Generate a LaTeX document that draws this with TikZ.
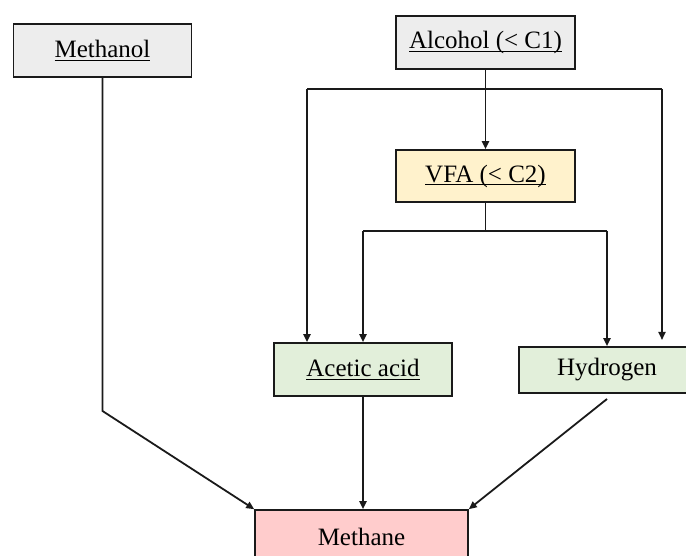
\documentclass[tikz,border=0pt]{standalone}
\usepackage{fontspec}
\setmainfont{Liberation Serif}
\usetikzlibrary{arrows.meta}
\definecolor{boxgray}{HTML}{EDEDED}
\definecolor{boxyellow}{HTML}{FFF2CC}
\definecolor{boxgreen}{HTML}{E2EFDA}
\definecolor{boxpink}{HTML}{FFCCCC}
\definecolor{edge}{HTML}{1A1A1A}
\newcommand\myul[1]{\setbox0\hbox{#1}\rlap{\rule[-3pt]{\wd0}{1pt}}\box0}
\tikzset{
  box/.style={draw=edge, line width=1.6pt, rectangle, inner sep=0pt,
    font=\fontsize{25}{29}\selectfont, text=black},
  arr/.style={draw=edge, line width=1.8pt, -{Triangle[length=8pt,width=7pt]}},
  ln/.style={draw=edge, line width=1.8pt}
}
\begin{document}
\begin{tikzpicture}[x=1pt,y=-1pt]
\useasboundingbox (0,0) rectangle (686,556);
\clip (0,0) rectangle (686,556);
% nodes
\node[box, fill=boxgray, minimum width=178pt, minimum height=53pt] (methanol) at (102.5,50.5) {\myul{Methanol}};
\node[box, fill=boxgray, minimum width=179pt, minimum height=53pt] (alcohol) at (485.5,42.5) {\myul{Alcohol (< C1)}};
\node[box, fill=boxyellow, minimum width=179pt, minimum height=52pt] (vfa) at (485.5,176) {\myul{VFA (< C2)}};
\node[box, fill=boxgreen, minimum width=178pt, minimum height=53pt] (acetic) at (363,369.5) {\myul{Acetic acid}};
\node[box, fill=boxgreen, minimum width=176pt, minimum height=46pt] (hydrogen) at (607,370) {Hydrogen};
\node[box, fill=boxpink, minimum width=213pt, minimum height=53pt] (methane) at (361.5,536.5) {Methane};
% helper coordinates
\coordinate (aL) at (307,89);
\coordinate (aR) at (662,89);
\coordinate (vL) at (acetic.north |- 0,231);
\coordinate (vR) at (hydrogen.north |- 0,231);
\coordinate (vM) at (vfa.south |- 0,231);
\coordinate (rEnd) at (662,340);
\coordinate (mBend) at (102.5,411);
\coordinate (hStart) at (607,399);
% connectors
\draw[arr] (alcohol.south) -- (vfa.north);
\draw[ln] (aL) -- (aR);
\draw[arr] (aL) -- (aL |- acetic.north);
\draw[arr] (aR) -- (rEnd);
\draw[ln] (vfa.south) -- (vM);
\draw[ln] (vL) -- (vR);
\draw[arr] (vL) -- (acetic.north);
\draw[arr] (vR) -- (hydrogen.north);
\draw[arr] (methanol.south) -- (mBend) -- (methane.north west);
\draw[arr] (acetic.south) -- (acetic.south |- methane.north);
\draw[arr] (hStart) -- (methane.north east);
\end{tikzpicture}
\end{document}
